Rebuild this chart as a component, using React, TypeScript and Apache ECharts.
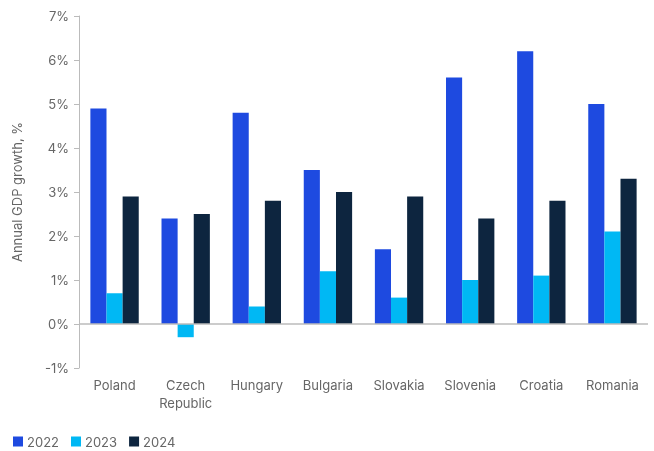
import React, { useEffect, useRef } from "react";
import * as echarts from "echarts";

const categories = ["Poland", "Czech\nRepublic", "Hungary", "Bulgaria", "Slovakia", "Slovenia", "Croatia", "Romania"];
const seriesNames = ["2022", "2023", "2024"];
const values2022 = [4.9, 2.4, 4.8, 3.5, 1.7, 5.6, 6.2, 5.0];
const values2023 = [0.7, -0.3, 0.4, 1.2, 0.6, 1.0, 1.1, 2.1];
const values2024 = [2.9, 2.5, 2.8, 3.0, 2.9, 2.4, 2.8, 3.3];
const colors = ["#1e4ae0", "#00b8f4", "#0d253f"];

export default function App() {
  const ref = useRef<HTMLDivElement>(null);
  useEffect(() => {
    if (!ref.current) return;
    const chart = echarts.init(ref.current, null, { renderer: "svg" });
    const font = "Inter, 'Noto Sans', sans-serif";
    const data = [values2022, values2023, values2024];
    chart.setOption({
      animation: false,
      textStyle: { fontFamily: font },
      grid: { left: 79, right: 6, top: 16, bottom: 83, containLabel: false },
      legend: {
        left: 8,
        top: 430,
        itemWidth: 10,
        itemHeight: 10,
        itemGap: 12,
        icon: "rect",
        textStyle: { color: "#666", fontSize: 13, fontFamily: font, padding: [0, 0, 0, -1] },
        data: seriesNames,
      },
      xAxis: {
        type: "category",
        data: categories,
        axisLine: { show: false },
        axisTick: { show: false },
        axisLabel: { color: "#666", fontSize: 13, fontFamily: font, margin: 8, lineHeight: 18, interval: 0 },
      },
      yAxis: {
        type: "value",
        min: -1,
        max: 7,
        interval: 1,
        name: "Annual GDP growth, %",
        nameLocation: "middle",
        nameGap: 56,
        nameTextStyle: { color: "#666", fontSize: 13, fontFamily: font },
        axisLine: { show: true, lineStyle: { color: "#bbb" } },
        axisTick: { show: true, length: 5, lineStyle: { color: "#bbb" } },
        splitLine: { show: false },
        axisLabel: { color: "#666", fontSize: 13, fontFamily: font, margin: 10, formatter: "{value}%" },
      },
      series: seriesNames.map((name, i) => ({
        name,
        type: "bar",
        data: data[i],
        itemStyle: { color: colors[i] },
        barGap: "0%",
        barCategoryGap: "32%",
        markLine:
          i === 0
            ? {
                silent: true,
                symbol: "none",
                label: { show: false },
                lineStyle: { color: "#bbb", type: "solid", width: 1.5 },
                data: [{ yAxis: 0 }],
              }
            : undefined,
      })),
    });
    return () => chart.dispose();
  }, []);
  return <div ref={ref} style={{ position: "fixed", left: 0, top: 0, width: 654, height: 451 }} />;
}
